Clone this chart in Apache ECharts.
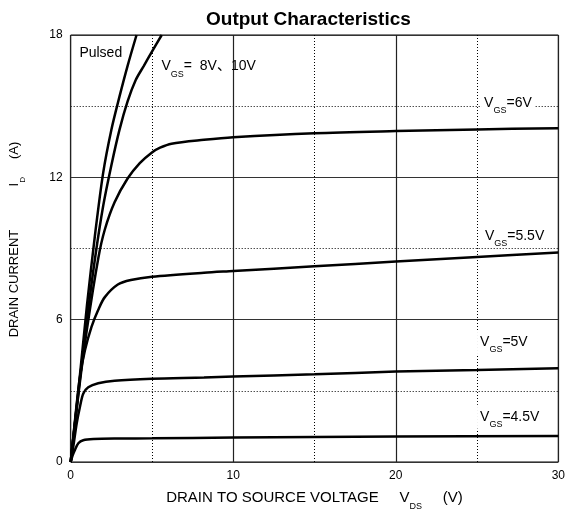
<!DOCTYPE html>
<html>
<head>
<meta charset="utf-8">
<script src="https://cdn.jsdelivr.net/npm/echarts@6/dist/echarts.min.js"></script>
<style>
html,body{margin:0;padding:0;background:#fff;}
#c{width:568px;height:518px;}
</style>
</head>
<body>
<div id="c"></div>
<script>
// ---- data ----
var xTicks = [0, 10, 20, 30];
var yTicks = [0, 6, 12, 18];

var vds10 = [0, 0.5, 1.0, 1.5, 2.0, 2.5, 3.0, 3.5, 4.05];
var id10  = [0, 3.2, 6.6, 9.6, 12.2, 14.0, 15.4, 16.7, 18.0];

var vds8 = [0, 0.5, 1.0, 1.5, 2.0, 2.5, 3.0, 3.5, 4.0, 4.5, 5.0, 5.6];
var id8  = [0, 3.1, 6.0, 8.6, 10.8, 12.5, 14.0, 15.2, 16.1, 16.7, 17.3, 18.0];

var vds6 = [0, 0.5, 1.0, 1.7, 2.1, 2.7, 3.5, 4.25, 5.0, 5.5, 6.2, 8.2, 10, 15, 20, 25, 30];
var id6  = [0, 3.0, 5.6, 8.6, 9.8, 10.95, 11.95, 12.6, 13.05, 13.25, 13.42, 13.58, 13.69, 13.86, 13.95, 14.02, 14.07];

var vds55 = [0, 0.3, 0.57, 0.88, 1.28, 1.69, 2.1, 2.9, 3.7, 5.0, 8.2, 10, 15, 20, 25, 30];
var id55  = [0, 2.0, 3.6, 4.72, 5.7, 6.41, 6.95, 7.48, 7.67, 7.81, 7.98, 8.05, 8.25, 8.45, 8.64, 8.83];

var vds5 = [0, 0.16, 0.37, 0.57, 0.77, 1.08, 1.69, 2.7, 5.0, 8.2, 10, 15, 20, 25, 30];
var id5  = [0, 0.65, 1.63, 2.33, 2.88, 3.15, 3.32, 3.43, 3.51, 3.56, 3.6, 3.7, 3.81, 3.88, 3.95];

var vds45 = [0, 0.12, 0.26, 0.47, 0.77, 1.4, 3.0, 5.0, 10, 20, 30];
var id45  = [0, 0.28, 0.51, 0.79, 0.92, 0.97, 0.99, 1.0, 1.03, 1.07, 1.1];

var curveNames = ['VGS=10V', 'VGS=8V', 'VGS=6V', 'VGS=5.5V', 'VGS=5V', 'VGS=4.5V'];

function pairs(xs, ys) { return xs.map(function (x, i) { return [x, ys[i]]; }); }

var FONT = 'Liberation Sans, Arial, Helvetica, Noto Sans CJK SC, sans-serif';
var rich = {
  v: { fontSize: 14, fontFamily: FONT, color: '#000', lineHeight: 24, verticalAlign: 'middle' },
  s: { fontSize: 9, fontFamily: FONT, color: '#000', lineHeight: 24, verticalAlign: 'bottom' }
};

function labelMark(coord, text, bg) {
  return {
    symbol: 'rect', symbolSize: 0, silent: true,
    label: {
      show: true, position: 'right', distance: 0,
      formatter: text, rich: rich,
      backgroundColor: bg ? '#fff' : 'transparent',
      padding: [0, 3, 0, 3]
    },
    data: [{ coord: coord }]
  };
}

function curve(name, xs, ys, mark) {
  var s = {
    name: name, type: 'line', data: pairs(xs, ys),
    showSymbol: false, symbol: 'none',
    smooth: 0.3,
    lineStyle: { color: '#000', width: 2.5 },
    z: 3
  };
  if (mark) s.markPoint = mark;
  return s;
}

var chart = echarts.init(document.getElementById('c'), null, { renderer: 'canvas' });
chart.setOption({
  backgroundColor: '#fff',
  animation: false,
  title: {
    text: 'Output Characteristics', left: 201, top: 5,
    textStyle: { fontFamily: FONT, fontSize: 19, fontWeight: 'bold', color: '#000' }
  },
  grid: {
    left: 70.7, right: 6.3, top: 35, bottom: 56,
    show: true, borderColor: '#000', borderWidth: 1, backgroundColor: 'transparent'
  },
  xAxis: {
    type: 'value', min: xTicks[0], max: xTicks[xTicks.length - 1], interval: 10,
    axisLine: { show: false }, axisTick: { show: false },
    axisLabel: { fontFamily: FONT, fontSize: 12, color: '#000', margin: 8 },
    splitLine: { show: true, lineStyle: { color: '#222', width: 1.2 } },
    minorTick: { show: false, splitNumber: 2 },
    minorSplitLine: { show: true, lineStyle: { color: '#000', width: 1, type: [1, 2] } },
    name: '{n|DRAIN TO SOURCE VOLTAGE     V}{s|DS}{n|     (V)}',
    nameLocation: 'middle', nameGap: 23,
    nameTextStyle: {
      rich: {
        n: { fontSize: 15, fontFamily: FONT, color: '#000', lineHeight: 26, verticalAlign: 'middle' },
        s: { fontSize: 9, fontFamily: FONT, color: '#000', lineHeight: 26, verticalAlign: 'bottom' }
      }
    }
  },
  yAxis: {
    type: 'value', min: yTicks[0], max: yTicks[yTicks.length - 1], interval: 6,
    axisLine: { show: false }, axisTick: { show: false },
    axisLabel: { fontFamily: FONT, fontSize: 12, color: '#000', margin: 8 },
    splitLine: { show: true, lineStyle: { color: '#333', width: 1.2 } },
    minorTick: { show: false, splitNumber: 2 },
    minorSplitLine: { show: true, lineStyle: { color: '#000', width: 1, type: [1, 2] } },
    name: '{n|DRAIN CURRENT            I}{s|D}{n|     (A)}',
    nameLocation: 'middle', nameGap: 44, nameRotate: 90,
    nameTextStyle: {
      padding: [0, 0, 0, 18],
      rich: {
        n: { fontSize: 13, fontFamily: FONT, color: '#000', lineHeight: 24, verticalAlign: 'middle' },
        s: { fontSize: 8, fontFamily: FONT, color: '#000', lineHeight: 24, verticalAlign: 'bottom' }
      }
    }
  },
  series: [
    curve(curveNames[0], vds10, id10, labelMark([0.35, 17.23], '{v|Pulsed}', false)),
    curve(curveNames[1], vds8, id8, labelMark([5.4, 16.67], '{v|V}{s|GS}{v|=  8V、10V}', false)),
    curve(curveNames[2], vds6, id6, labelMark([25.25, 15.12], '{v|V}{s|GS}{v|=6V}', true)),
    curve(curveNames[3], vds55, id55, labelMark([25.3, 9.53], '{v|V}{s|GS}{v|=5.5V}', true)),
    curve(curveNames[4], vds5, id5, labelMark([25.0, 5.06], '{v|V}{s|GS}{v|=5V}', true)),
    curve(curveNames[5], vds45, id45, labelMark([25.0, 1.91], '{v|V}{s|GS}{v|=4.5V}', true))
  ]
});
</script>
</body>
</html>
